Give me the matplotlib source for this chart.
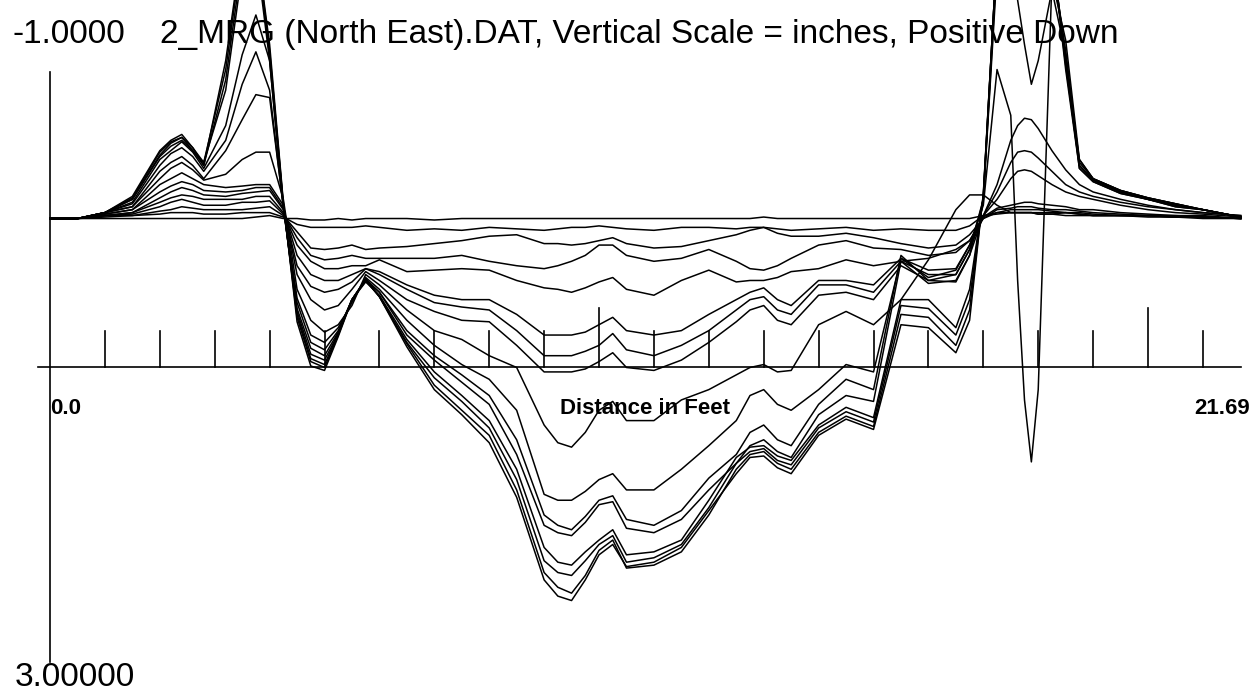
import matplotlib.pyplot as plt

# distance along the profile, feet
dist_ft = [0, 0.5, 1, 1.5, 2, 2.2, 2.4, 2.6, 2.8, 3.2,
           3.5, 3.75, 4, 4.25, 4.5, 4.75, 5, 5.25, 5.5, 5.75,
           6, 6.5, 7, 7.5, 8, 8.5, 9, 9.25, 9.5, 9.75,
           10, 10.25, 10.5, 11, 11.5, 12, 12.5, 12.75, 13, 13.25,
           13.5, 14, 14.5, 15, 15.5, 16, 16.5, 16.75, 17, 17.25,
           17.5, 17.625, 17.75, 17.875, 18, 18.25, 18.5, 18.75, 19, 19.5,
           20, 20.5, 21, 21.69]

# vertical readings, inches (positive down), one list per pass
scan_00 = [-0.01, -0.01, -0.01, -0.01, -0.01,
           -0.01, -0.01, -0.01,
           -0.01, -0.01, -0.01, -0.02, -0.03, -0.01, -0.01, 0.00, 0.00, -0.01,
           0.00, -0.01, -0.01, -0.01, 0.00, -0.01, -0.01, -0.01, -0.01,
           -0.01, -0.01, -0.01, -0.01, -0.01,
           -0.01, -0.01, -0.01, -0.01, -0.01,
           -0.01, -0.02, -0.01,
           -0.01, -0.01, -0.01, -0.01, -0.01, -0.01, -0.01, -0.01, -0.03, -0.05,
           -0.05, -0.05, -0.05, -0.05, -0.04, -0.04, -0.05, -0.04, -0.03, -0.03,
           -0.03, -0.02, -0.02, -0.01]
scan_01 = [-0.01, -0.01, -0.02, -0.03, -0.04,
           -0.05, -0.05, -0.05,
           -0.04, -0.04, -0.05, -0.05, -0.05, -0.02, 0.03, 0.05, 0.05, 0.05,
           0.05, 0.04, 0.05, 0.07, 0.06, 0.07, 0.05, 0.06, 0.07,
           0.06, 0.05, 0.05, 0.04, 0.05,
           0.06, 0.07, 0.05, 0.05, 0.06,
           0.05, 0.05, 0.06,
           0.07, 0.06, 0.05, 0.07, 0.06, 0.07, 0.07, 0.04, -0.03, -0.04,
           -0.05, -0.05, -0.05, -0.05, -0.04, -0.04, -0.03, -0.03, -0.03, -0.03,
           -0.02, -0.02, -0.01, -0.01]
scan_02 = [-0.01, -0.01, -0.03, -0.03, -0.06,
           -0.07, -0.09, -0.08,
           -0.07, -0.07, -0.07, -0.08, -0.09, -0.03, 0.08, 0.19, 0.20, 0.19,
           0.17, 0.20, 0.19, 0.18, 0.16, 0.14, 0.11, 0.10, 0.16,
           0.16, 0.17, 0.16, 0.14, 0.12,
           0.16, 0.19, 0.18, 0.14, 0.10,
           0.07, 0.05, 0.09,
           0.11, 0.11, 0.09, 0.12, 0.16, 0.19, 0.17, 0.10, -0.01, -0.05,
           -0.07, -0.07, -0.07, -0.07, -0.07, -0.06, -0.05, -0.05, -0.04, -0.03,
           -0.03, -0.02, -0.02, -0.01]
scan_03 = [-0.01, -0.01, -0.03, -0.04, -0.09,
           -0.12, -0.14, -0.12,
           -0.10, -0.10, -0.12, -0.12, -0.13, -0.04, 0.12, 0.24, 0.27, 0.26,
           0.24, 0.26, 0.26, 0.26, 0.26, 0.24, 0.28, 0.31, 0.33,
           0.31, 0.28, 0.24, 0.17, 0.17,
           0.24, 0.28, 0.26, 0.20, 0.28,
           0.33, 0.34, 0.31,
           0.26, 0.17, 0.14, 0.19, 0.20, 0.24, 0.22, 0.14, -0.01, -0.07,
           -0.08, -0.09, -0.09, -0.09, -0.08, -0.07, -0.07, -0.06, -0.05, -0.04,
           -0.03, -0.03, -0.02, -0.01]
scan_04 = [-0.01, -0.01, -0.03, -0.05, -0.12,
           -0.15, -0.17, -0.16,
           -0.14, -0.14, -0.14, -0.16, -0.16, -0.05, 0.17, 0.28, 0.33, 0.33,
           0.31, 0.31, 0.27, 0.35, 0.34, 0.33, 0.34, 0.41, 0.46,
           0.47, 0.49, 0.46, 0.42, 0.39,
           0.47, 0.51, 0.41, 0.34, 0.42,
           0.41, 0.41, 0.39,
           0.35, 0.33, 0.27, 0.31, 0.28, 0.26, 0.20, 0.14, -0.02, -0.08,
           -0.10, -0.11, -0.12, -0.12, -0.11, -0.10, -0.09, -0.07, -0.07, -0.05,
           -0.04, -0.03, -0.03, -0.01]
scan_05 = [-0.01, -0.01, -0.03, -0.05, -0.15,
           -0.19, -0.22, -0.20,
           -0.17, -0.16, -0.18, -0.19, -0.20, -0.07, 0.24, 0.37, 0.41, 0.41,
           0.37, 0.33, 0.35, 0.44, 0.51, 0.54, 0.54, 0.64, 0.78,
           0.78, 0.78, 0.76, 0.71, 0.66,
           0.75, 0.78, 0.75, 0.64, 0.54,
           0.49, 0.46, 0.54,
           0.58, 0.41, 0.41, 0.44, 0.26, 0.34, 0.33, 0.17, -0.03, -0.14,
           -0.28, -0.33, -0.34, -0.33, -0.30, -0.24, -0.19, -0.16, -0.14, -0.10,
           -0.07, -0.05, -0.04, -0.02]
scan_06 = [-0.01, -0.01, -0.04, -0.07, -0.19,
           -0.23, -0.26, -0.24,
           -0.20, -0.19, -0.20, -0.22, -0.22, -0.08, 0.31, 0.45, 0.49, 0.47,
           0.42, 0.33, 0.37, 0.47, 0.56, 0.59, 0.61, 0.75, 0.92,
           0.92, 0.92, 0.89, 0.85, 0.77,
           0.88, 0.92, 0.85, 0.75, 0.61,
           0.54, 0.52, 0.61,
           0.64, 0.44, 0.44, 0.49, 0.28, 0.37, 0.37, 0.20, -0.03, -0.19,
           -0.39, -0.46, -0.47, -0.46, -0.42, -0.33, -0.24, -0.19, -0.16, -0.12,
           -0.09, -0.07, -0.05, -0.03]
scan_07 = [-0.01, -0.01, -0.04, -0.07, -0.24,
           -0.28, -0.32, -0.28,
           -0.24, -0.22, -0.23, -0.24, -0.24, -0.10, 0.37, 0.54, 0.61, 0.58,
           0.47, 0.35, 0.41, 0.54, 0.62, 0.68, 0.69, 0.85, 1.03,
           1.03, 1.03, 1.01, 0.96, 0.90,
           1.00, 1.02, 0.95, 0.83, 0.69,
           0.61, 0.58, 0.68,
           0.71, 0.51, 0.49, 0.54, 0.31, 0.41, 0.42, 0.24, -0.03, -0.24,
           -0.54, -0.64, -0.69, -0.68, -0.62, -0.47, -0.34, -0.24, -0.19, -0.14,
           -0.10, -0.07, -0.05, -0.03]
scan_08 = [-0.01, -0.01, -0.05, -0.09, -0.28,
           -0.35, -0.39, -0.34,
           -0.27, -0.31, -0.41, -0.46, -0.46, -0.14, 0.47, 0.68, 0.76, 0.71,
           0.58, 0.37, 0.44, 0.61, 0.75, 0.81, 0.92, 1.00, 1.39,
           1.51, 1.54, 1.44, 1.29, 1.23,
           1.36, 1.36, 1.22, 1.15, 1.05,
           1.00, 0.98, 1.03,
           1.02, 0.71, 0.62, 0.71, 0.54, 0.27, -0.07, -0.17, -0.17, -0.10,
           -0.05, -0.05, -0.05, -0.05, -0.05, -0.05, -0.05, -0.04, -0.03, -0.03,
           -0.03, -0.02, -0.02, -0.01]
scan_09 = [-0.01, -0.01, -0.05, -0.09, -0.33,
           -0.39, -0.43, -0.37,
           -0.28, -0.47, -0.68, -0.85, -0.83, -0.10, 0.53, 0.78, 0.83, 0.73,
           0.56, 0.39, 0.47, 0.68, 0.85, 0.98, 1.08, 1.29, 1.86,
           1.90, 1.90, 1.84, 1.76, 1.72,
           1.83, 1.83, 1.69, 1.53, 1.36,
           1.19, 1.15, 1.25,
           1.29, 1.15, 0.98, 1.03, 0.26, 0.39, 0.34, 0.17, -0.10, -1.02,
           -0.71, 0.41, 1.22, 1.64, 1.15, -1.63, -1.22, -0.41, -0.28, -0.20,
           -0.15, -0.11, -0.07, -0.02]
scan_10 = [-0.01, -0.01, -0.05, -0.11, -0.37,
           -0.45, -0.49, -0.43,
           -0.33, -0.54, -0.92, -1.14, -0.88, -0.08, 0.56, 0.83, 0.88, 0.75,
           0.54, 0.40, 0.49, 0.75, 0.92, 1.05, 1.19, 1.49, 2.00,
           2.07, 2.10, 2.01, 1.90, 1.87,
           2.03, 2.07, 1.97, 1.75, 1.59,
           1.44, 1.39, 1.49,
           1.53, 1.25, 1.08, 1.15, 0.24, 0.41, 0.37, 0.20, -0.14, -1.76,
           -1.83, -1.83, -1.83, -1.83, -1.83, -1.76, -1.15, -0.37, -0.27, -0.19,
           -0.14, -0.10, -0.07, -0.02]
scan_11 = [-0.01, -0.01, -0.05, -0.12, -0.41,
           -0.47, -0.53, -0.46,
           -0.35, -0.64, -1.12, -1.39, -1.08, -0.08, 0.60, 0.87, 0.92, 0.76,
           0.54, 0.41, 0.49, 0.78, 0.95, 1.10, 1.25, 1.59, 2.07,
           2.12, 2.14, 2.05, 1.93, 1.91,
           2.09, 2.12, 2.03, 1.83, 1.65,
           1.53, 1.49, 1.57,
           1.61, 1.32, 1.19, 1.23, 0.28, 0.43, 0.41, 0.24, -0.14, -1.69,
           -1.76, -1.49, -1.19, -0.92, -1.08, -1.56, -1.12, -0.39, -0.28, -0.20,
           -0.15, -0.11, -0.07, -0.02]
scan_12 = [-0.01, -0.01, -0.05, -0.14, -0.43,
           -0.50, -0.54, -0.47,
           -0.39, -0.88, -1.69, -1.83, -1.08, -0.10, 0.62, 0.91, 0.95, 0.77,
           0.54, 0.42, 0.51, 0.81, 1.03, 1.19, 1.36, 1.69, 2.22,
           2.32, 2.34, 2.25, 2.17, 2.10,
           2.27, 2.25, 2.17, 1.90, 1.61,
           1.54, 1.53, 1.60,
           1.63, 1.39, 1.27, 1.34, 0.54, 0.54, 0.73, 0.47, -0.15, -1.83,
           -1.90, -1.90, -1.90, -1.90, -1.90, -1.83, -1.08, -0.41, -0.28, -0.20,
           -0.15, -0.11, -0.07, -0.02]
scan_13 = [-0.01, -0.01, -0.05, -0.14, -0.44,
           -0.52, -0.56, -0.47,
           -0.37, -0.95, -1.76, -1.90, -1.12, -0.10, 0.64, 0.94, 0.98, 0.77,
           0.54, 0.41, 0.52, 0.83, 1.07, 1.23, 1.41, 1.76, 2.31,
           2.39, 2.41, 2.31, 2.20, 2.14,
           2.32, 2.29, 2.20, 1.95, 1.65,
           1.57, 1.55, 1.63,
           1.66, 1.41, 1.30, 1.37, 0.58, 0.60, 0.78, 0.54, -0.16, -1.83,
           -1.90, -1.90, -1.90, -1.90, -1.90, -1.83, -1.05, -0.37, -0.27, -0.19,
           -0.14, -0.10, -0.07, -0.02]
scan_14 = [-0.01, -0.01, -0.05, -0.15, -0.46,
           -0.53, -0.56, -0.49,
           -0.39, -1.02, -1.83, -1.90, -1.15, -0.11, 0.66, 0.96, 1.00, 0.78,
           0.54, 0.41, 0.52, 0.84, 1.12, 1.29, 1.46, 1.83, 2.39,
           2.49, 2.53, 2.41, 2.24, 2.17,
           2.36, 2.34, 2.25, 2.00, 1.69,
           1.59, 1.57, 1.65,
           1.69, 1.44, 1.33, 1.40, 0.64, 0.66, 0.85, 0.61, -0.17, -1.83,
           -1.90, -1.90, -1.90, -1.90, -1.90, -1.83, -1.02, -0.35, -0.26, -0.18,
           -0.14, -0.09, -0.07, -0.02]
scan_15 = [-0.01, -0.01, -0.05, -0.16, -0.47,
           -0.54, -0.58, -0.49,
           -0.37, -1.08, -1.86, -1.90, -1.19, -0.12, 0.69, 0.99, 1.02, 0.79,
           0.54, 0.40, 0.52, 0.86, 1.15, 1.32, 1.51, 1.88, 2.44,
           2.55, 2.58, 2.44, 2.27, 2.20,
           2.35, 2.32, 2.22, 1.97, 1.72,
           1.61, 1.60, 1.68,
           1.72, 1.46, 1.35, 1.42, 0.71, 0.73, 0.90, 0.68, -0.18, -1.83,
           -1.90, -1.90, -1.90, -1.90, -1.90, -1.83, -1.08, -0.35, -0.26, -0.18,
           -0.14, -0.09, -0.07, -0.02]

scans = [scan_00, scan_01, scan_02, scan_03, scan_04, scan_05, scan_06, scan_07,
         scan_08, scan_09, scan_10, scan_11, scan_12, scan_13, scan_14, scan_15]

tick_ft = list(range(1, 22))
long_ticks = [10, 20]
length_ft = 21.69
title = '2_MRG (North East).DAT, Vertical Scale = inches, Positive Down'

fig = plt.figure(figsize=(12.57, 6.94), dpi=100)
ax = fig.add_axes([0, 0, 1, 1])
ax.set_xlim(-0.911, 21.985)
ax.set_ylim(3.2136, -1.4915)   # positive down
ax.axis('off')

for s in scans:
    ax.plot(dist_ft, s, color='black', lw=1.1)

# axes drawn by hand, like the original plot
ax.plot([0, 0], [-1, 3], color='black', lw=1.2)
ax.plot([-0.22, length_ft], [1, 1], color='black', lw=1.2)
for t in tick_ft:
    top = 0.6 if t in long_ticks else 0.755
    ax.plot([t, t], [1, top], color='black', lw=1.2)

big = dict(fontsize=24, family='Liberation Sans', va='center', ha='left')
ax.text(-0.675, -1.255, '-1.0000', **big)
ax.text(2.0, -1.255, title, **big)
ax.text(-0.64, 3.10, '3.00000', **big)

small = dict(fontsize=16, fontweight='bold', family='Liberation Sans', va='center')
ax.text(0.0, 1.28, '0.0', ha='left', **small)
ax.text(10.84, 1.28, 'Distance in Feet', ha='center', **small)
ax.text(21.86, 1.28, '21.69', ha='right', **small)

plt.savefig('out.png', dpi=100)
